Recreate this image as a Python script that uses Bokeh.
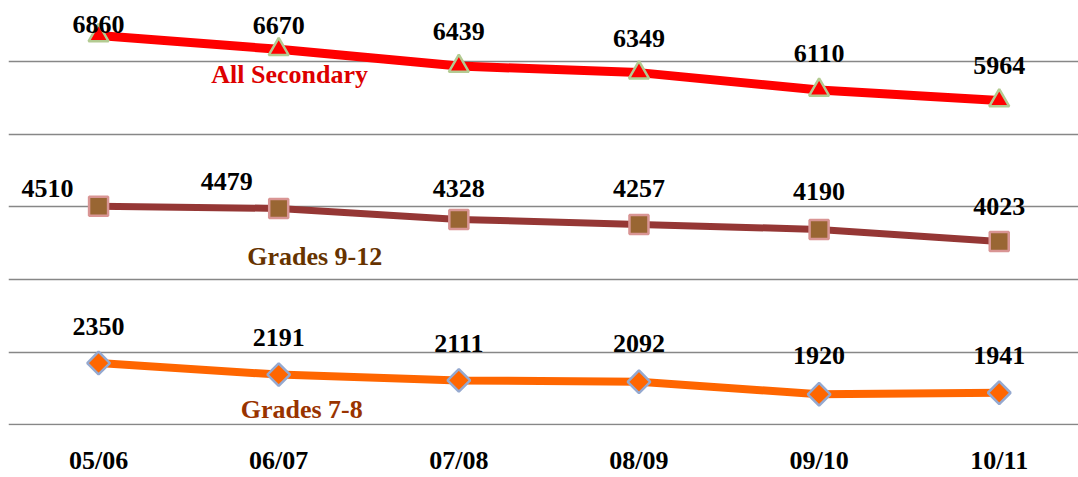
import numpy as np
from bokeh.plotting import figure
from bokeh.models import ColumnDataSource, Range1d, FixedTicker
from bokeh.core.properties import value
from bokeh.embed import file_html
from bokeh.resources import INLINE

years = ["05/06", "06/07", "07/08", "08/09", "09/10", "10/11"]
all_secondary = [6860, 6670, 6439, 6349, 6110, 5964]
grades_9_12 = [4510, 4479, 4328, 4257, 4190, 4023]
grades_7_8 = [2350, 2191, 2111, 2092, 1920, 1941]
series_names = ["All Secondary", "Grades 9-12", "Grades 7-8"]
grid_values = [1500, 2500, 3500, 4500, 5500, 6500]

FONT = value("Liberation Serif")
xs = list(range(len(years)))

p = figure(width=1078, height=477, output_backend="svg", toolbar_location=None,
           x_range=Range1d(-0.5, 5.44), y_range=Range1d(1490, 7342),
           min_border_left=8, min_border_right=0, min_border_top=0, min_border_bottom=50)
p.outline_line_color = None
p.background_fill_color = "white"
p.border_fill_color = "white"

p.yaxis.visible = False
p.xgrid.visible = False
p.ygrid.ticker = FixedTicker(ticks=grid_values)
p.ygrid.grid_line_color = "#878787"
p.ygrid.grid_line_width = 1.6

p.xaxis.ticker = FixedTicker(ticks=xs)
p.xaxis.major_label_overrides = {i: y for i, y in enumerate(years)}
p.xaxis.axis_line_color = None
p.xaxis.major_tick_line_color = None
p.xaxis.minor_tick_line_color = None
p.xaxis.major_label_text_font = "Liberation Serif"
p.xaxis.major_label_text_font_style = "bold"
p.xaxis.major_label_text_font_size = "26px"
p.xaxis.major_label_text_color = "black"
p.xaxis.major_label_standoff = 14

specs = [
    dict(vals=all_secondary, line="#FF0000", lw=9, marker="triangle", fill="#FF0000",
         edge="#B3CB92", size=20, angle=0,
         dx=[0, 0, 0, 0, 0, 0], dy=[-11, -24, -35, -34, -36, -35],
         name_idx=1, ndx=11, ndy=25, ncolor="#DD0000"),
    dict(vals=grades_9_12, line="#953735", lw=7, marker="square", fill="#996633",
         edge="#D99594", size=19, angle=0,
         dx=[-51, -52, 0, 0, 0, 0], dy=[-18, -27, -31, -36, -38, -35],
         name_idx=1, ndx=36, ndy=48, ncolor="#663300"),
    dict(vals=grades_7_8, line="#FF6600", lw=8, marker="square", fill="#FF6600",
         edge="#95A9D0", size=16, angle=np.pi / 4,
         dx=[0, 0, 0, 0, 0, 0], dy=[-37, -37, -37, -38, -39, -37],
         name_idx=1, ndx=23, ndy=35, ncolor="#993300"),
]

for s, name in zip(specs, series_names):
    src = ColumnDataSource(dict(x=xs, y=s["vals"], label=[str(v) for v in s["vals"]],
                                dx=s["dx"], dy=s["dy"]))
    p.line("x", "y", source=src, line_color=s["line"], line_width=s["lw"])
    p.scatter("x", "y", source=src, marker=s["marker"], size=s["size"], angle=s["angle"],
              fill_color=s["fill"], line_color=s["edge"], line_width=2.5)
    p.text("x", "y", text="label", source=src, x_offset="dx", y_offset="dy",
           text_font=FONT, text_font_style="bold", text_font_size="26px",
           text_color="black", text_align="center", text_baseline="middle")
    i = s["name_idx"]
    p.text(x=[xs[i]], y=[s["vals"][i]], text=[name], x_offset=s["ndx"], y_offset=s["ndy"],
           text_font=FONT, text_font_style="bold", text_font_size="26px",
           text_color=s["ncolor"], text_align="center", text_baseline="middle")

open("out.html", "w").write(file_html(p, INLINE))
